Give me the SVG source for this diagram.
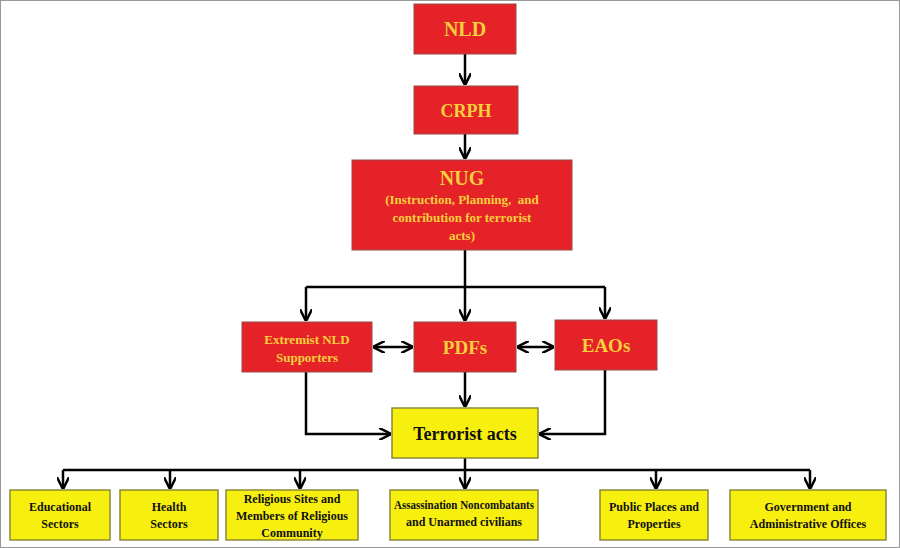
<svg xmlns="http://www.w3.org/2000/svg" width="900" height="548" viewBox="0 0 900 548">
<defs>
<marker id="ah" viewBox="0 0 10 10" refX="9" refY="5" markerWidth="5" markerHeight="5" orient="auto-start-reverse" markerUnits="strokeWidth"><path d="M0,0 L10,5 L0,10" fill="none" stroke="#000" stroke-width="2"/></marker>
</defs>
<style>
.r{fill:#e52228;stroke:#9a4a4a;stroke-width:1}
.y{fill:#f7ef0e;stroke:#8a8a3a;stroke-width:1.5}
.tr{font-family:"Liberation Serif",serif;font-weight:bold;fill:#f6cf3c;text-anchor:middle}
.ty{font-family:"Liberation Serif",serif;font-weight:bold;fill:#111;text-anchor:middle}
.c{fill:none;stroke:#000;stroke-width:2.5}
</style>
<rect x="0.5" y="0.5" width="899" height="547" fill="#fff" stroke="#999" stroke-width="1"/>
<g id="connectors">
<path class="c" d="M465,54 V84" marker-end="url(#ah)"/>
<path class="c" d="M465,134 V158" marker-end="url(#ah)"/>
<path class="c" d="M465,250 V320" marker-end="url(#ah)"/>
<path class="c" d="M306,287 H605"/>
<path class="c" d="M306,287 V320" marker-end="url(#ah)"/>
<path class="c" d="M605,287 V318" marker-end="url(#ah)"/>
<path class="c" d="M374,347 H412" marker-start="url(#ah)" marker-end="url(#ah)"/>
<path class="c" d="M518,347 H553" marker-start="url(#ah)" marker-end="url(#ah)"/>
<path class="c" d="M465,372 V406" marker-end="url(#ah)"/>
<path class="c" d="M306,372 V434 H390" marker-end="url(#ah)"/>
<path class="c" d="M605,370 V434 H540" marker-end="url(#ah)"/>
<path class="c" d="M465,458 V488" marker-end="url(#ah)"/>
<path class="c" d="M63,470 H810"/>
<path class="c" d="M63,470 V488" marker-end="url(#ah)"/>
<path class="c" d="M170,470 V488" marker-end="url(#ah)"/>
<path class="c" d="M300,470 V488" marker-end="url(#ah)"/>
<path class="c" d="M656,470 V488" marker-end="url(#ah)"/>
<path class="c" d="M810,470 V488" marker-end="url(#ah)"/>
</g>
<g id="nld"><rect class="r" x="414" y="4" width="102" height="50"/><text class="tr" x="465" y="36" font-size="20">NLD</text></g>
<g id="crph"><rect class="r" x="414" y="86" width="104" height="48"/><text class="tr" x="466" y="117" font-size="18">CRPH</text></g>
<g id="nug"><rect class="r" x="352" y="160" width="220" height="90"/>
<text class="tr" x="462" y="185" font-size="20">NUG</text>
<text class="tr" x="462" y="204" font-size="13" xml:space="preserve">(Instruction, Planning,  and</text>
<text class="tr" x="462" y="222" font-size="13">contribution for terrorist</text>
<text class="tr" x="462" y="240" font-size="13">acts)</text></g>
<g id="extremist"><rect class="r" x="242" y="322" width="130" height="50"/>
<text class="tr" x="307" y="344" font-size="13">Extremist NLD</text>
<text class="tr" x="307" y="362" font-size="13">Supporters</text></g>
<g id="pdfs"><rect class="r" x="414" y="322" width="102" height="50"/><text class="tr" x="465" y="354" font-size="19">PDFs</text></g>
<g id="eaos"><rect class="r" x="555" y="320" width="102" height="50"/><text class="tr" x="606" y="352" font-size="19">EAOs</text></g>
<g id="terrorist"><rect class="y" x="392" y="408" width="146" height="50"/><text class="ty" x="465" y="440" font-size="18">Terrorist acts</text></g>
<g id="edu"><rect class="y" x="10" y="490" width="100" height="50"/><text class="ty" x="60" y="511" font-size="12">Educational</text><text class="ty" x="60" y="528" font-size="12">Sectors</text></g>
<g id="health"><rect class="y" x="120" y="490" width="98" height="50"/><text class="ty" x="169" y="511" font-size="12">Health</text><text class="ty" x="169" y="528" font-size="12">Sectors</text></g>
<g id="religious"><rect class="y" x="226" y="490" width="132" height="50"/><text class="ty" x="292" y="503" font-size="12">Religious Sites and</text><text class="ty" x="292" y="520" font-size="12">Members of Religious</text><text class="ty" x="292" y="537" font-size="12">Community</text></g>
<g id="assassination"><rect class="y" x="390" y="490" width="148" height="50"/><text class="ty" x="464" y="509" font-size="12" textLength="140" lengthAdjust="spacingAndGlyphs">Assassination Noncombatants</text><text class="ty" x="464" y="526" font-size="12">and Unarmed civilians</text></g>
<g id="public"><rect class="y" x="600" y="490" width="108" height="50"/><text class="ty" x="654" y="511" font-size="12">Public Places and</text><text class="ty" x="654" y="528" font-size="12">Properties</text></g>
<g id="government"><rect class="y" x="730" y="490" width="156" height="50"/><text class="ty" x="808" y="511" font-size="12">Government and</text><text class="ty" x="808" y="528" font-size="12">Administrative Offices</text></g>
</svg>
